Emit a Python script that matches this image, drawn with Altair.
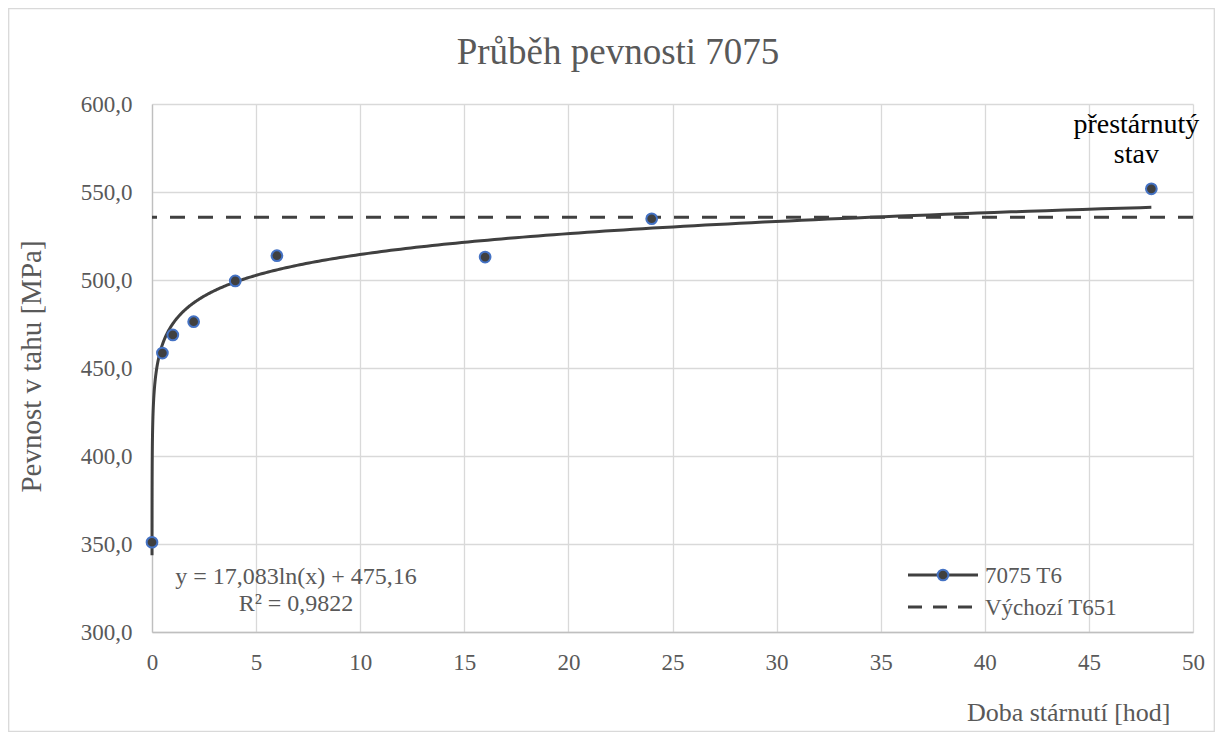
import altair as alt
import pandas as pd

# ---- data ----
hours = [0, 0.5, 1, 2, 4, 6, 16, 24, 48]
strength = [351.0, 458.5, 468.8, 476.3, 499.5, 513.8, 513.0, 534.8, 551.8]
baseline_T651 = 535.6
trend_a = 17.083
trend_b = 475.16
x_ticks = [0, 5, 10, 15, 20, 25, 30, 35, 40, 45, 50]
y_ticks = [300, 350, 400, 450, 500, 550, 600]
series_names = ["7075 T6", "Výchozí T651"]
title_text = "Průběh pevnosti 7075"
equation_lines = ["y = 17,083ln(x) + 475,16", "R² = 0,9822"]
note_lines = ["přestárnutý", "stav"]

FONT = "Liberation Serif"
GREY = "#595959"
DARK = "#404040"
BLUE = "#4472C4"
GRID = "#d9d9d9"

W, H = 1041, 528

df = pd.DataFrame({"x": hours, "y": strength})
one = pd.DataFrame({"k": [0]})

xs = alt.Scale(domain=[0, 50], nice=False, zero=False)
ys = alt.Scale(domain=[300, 600], nice=False, zero=False)

xaxis = alt.Axis(
    values=x_ticks, title="Doba stárnutí [hod]", grid=True, gridColor=GRID, gridWidth=1.3,
    domainColor="#bfbfbf", domainWidth=1.3, ticks=False, tickSize=0,
    labelFont=FONT, labelFontSize=23, labelColor=GREY, labelPadding=37,
    labelBaseline="alphabetic", labelFlush=False, labelOverlap=False,
    titleFont=FONT, titleFontSize=26, titleFontWeight="normal", titleColor=GREY,
    titleAnchor="end", titleAlign="right", titleX=1018, titleY=88, titleBaseline="alphabetic",
)
yaxis = alt.Axis(
    values=y_ticks, title="Pevnost v tahu [MPa]", grid=True, gridColor=GRID, gridWidth=1.3,
    domainColor="#bfbfbf", domainWidth=1.3, ticks=False, tickSize=0,
    labelFont=FONT, labelFontSize=23, labelColor=GREY, labelPadding=20,
    labelFlush=False, labelOverlap=False,
    labelExpr="replace(format(datum.value, '.1f'), '.', ',')",
    titleFont=FONT, titleFontSize=29, titleFontWeight="normal", titleColor=GREY,
    titleX=-112, titleY=262, titleAlign="center", titleBaseline="alphabetic", titleAngle=270,
)

border = alt.Chart(one).mark_rect(fill="white", fillOpacity=0, stroke=GRID, strokeWidth=1.3).encode(
    x=alt.value(-143.3), x2=alt.value(1062.3), y=alt.value(-95.3), y2=alt.value(627.3)
)

ref_line = alt.Chart(pd.DataFrame({"y": [baseline_T651]})).mark_rule(
    color=DARK, strokeWidth=3, strokeDash=[15, 13]
).encode(y=alt.Y("y:Q", scale=ys, axis=yaxis))

trend = (
    alt.Chart(alt.sequence(start=-7.7, stop=3.9, step=0.02, as_="t"))
    .transform_calculate(tt="min(datum.t, log(48))")
    .transform_calculate(x="exp(datum.tt)", y=f"{trend_a}*datum.tt + {trend_b}")
    .mark_line(color=DARK, strokeWidth=3)
    .encode(x=alt.X("x:Q", scale=xs, axis=xaxis), y=alt.Y("y:Q", scale=ys, axis=yaxis))
)

pts = alt.Chart(df).mark_point(
    shape="circle", filled=True, fill=DARK, stroke=BLUE, strokeWidth=2,
    size=115, opacity=1, fillOpacity=1, strokeOpacity=1,
).encode(x=alt.X("x:Q", scale=xs, axis=xaxis), y=alt.Y("y:Q", scale=ys, axis=yaxis))

note = alt.Chart(pd.DataFrame({"x": [hours[-1]], "y": [strength[-1]]})).mark_text(
    text=note_lines, font=FONT, fontSize=28, color="#000000", align="center",
    baseline="alphabetic", lineHeight=30, dx=-15, dy=-56,
).encode(x=alt.X("x:Q", scale=xs), y=alt.Y("y:Q", scale=ys))

equation = alt.Chart(one).mark_text(
    text=equation_lines, font=FONT, fontSize=24, color=GREY, align="center",
    baseline="alphabetic", lineHeight=27,
).encode(x=alt.value(144), y=alt.value(480))

title = alt.Chart(one).mark_text(
    text=title_text, font=FONT, fontSize=37, color=GREY, align="center", baseline="alphabetic",
).encode(x=alt.value(466), y=alt.value(-40))

leg_line = alt.Chart(one).mark_rule(color=DARK, strokeWidth=3).encode(
    x=alt.value(756), x2=alt.value(826), y=alt.value(471)
)
leg_pt = alt.Chart(one).mark_point(
    shape="circle", filled=True, fill=DARK, stroke=BLUE, strokeWidth=2,
    size=115, opacity=1, fillOpacity=1, strokeOpacity=1,
).encode(x=alt.value(791), y=alt.value(471))
leg_dash = alt.Chart(one).mark_rule(color=DARK, strokeWidth=3, strokeDash=[14, 11]).encode(
    x=alt.value(756), x2=alt.value(826), y=alt.value(503)
)
leg_t1 = alt.Chart(one).mark_text(
    text=series_names[0], font=FONT, fontSize=23, color=GREY, align="left", baseline="alphabetic"
).encode(x=alt.value(833), y=alt.value(479))
leg_t2 = alt.Chart(one).mark_text(
    text=series_names[1], font=FONT, fontSize=23, color=GREY, align="left", baseline="alphabetic"
).encode(x=alt.value(833), y=alt.value(511))

chart = alt.layer(
    border, ref_line, trend, pts, note, equation, title,
    leg_line, leg_dash, leg_pt, leg_t1, leg_t2,
).properties(
    width=W, height=H,
    autosize=alt.AutoSizeParams(type="none"),
    padding={"left": 144, "top": 96, "right": 22, "bottom": 100},
    background="white",
).configure_view(stroke=None)

chart.save("out.html", embed_options={"renderer": "svg", "actions": False})
